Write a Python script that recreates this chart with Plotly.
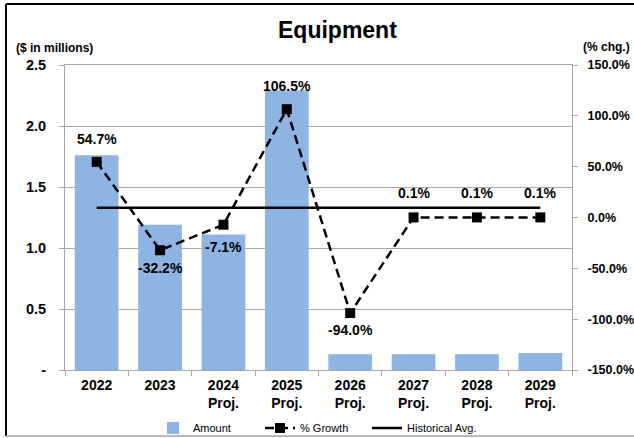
import plotly.graph_objects as go

# Equipment spending: amounts ($M) and year-over-year growth (%)
categories = ["2022", "2023", "2024<br>Proj.", "2025<br>Proj.", "2026<br>Proj.",
              "2027<br>Proj.", "2028<br>Proj.", "2029<br>Proj."]
amounts = [1.76, 1.19, 1.11, 2.29, 0.13, 0.13, 0.13, 0.14]
growth_pct = [54.7, -32.2, -7.1, 106.5, -94.0, 0.1, 0.1, 0.1]
historical_avg = 1.33

left_ticks = [0, 0.5, 1.0, 1.5, 2.0, 2.5]
left_tick_text = ["-", "0.5", "1.0", "1.5", "2.0", "2.5"]
right_ticks = [-150, -100, -50, 0, 50, 100, 150]

# growth label offsets (px) above (+) / below (-) each marker
label_shift = [23, -18, -22, 23, -17, 24, 24, 24]

W, H = 634, 438
L, R, T, B = 65, 62, 65, 68
PW, PH = W - L - R, H - T - B

FONT = "Liberation Sans, Arial, sans-serif"
GRID = "#a6a6a6"
BAR = "#8db4e2"


def px(x):
    return (x - L) / PW


def py(y):
    return (H - B - y) / PH


fig = go.Figure()
fig.add_trace(go.Bar(
    x=categories, y=amounts, name="Amount", marker_color=BAR,
    marker_line_width=0, yaxis="y", legendrank=1,
))
fig.add_trace(go.Scatter(
    x=[categories[0], categories[-1]], y=[historical_avg, historical_avg],
    mode="lines", name="Historical Avg.", yaxis="y",
    line=dict(color="black", width=2.5), legendrank=3,
))
fig.add_trace(go.Scatter(
    x=categories, y=growth_pct, name="% Growth", yaxis="y2",
    mode="lines+markers",
    line=dict(color="black", width=2.5, dash="9px,5px"),
    marker=dict(symbol="square", size=10, color="black"),
    legendrank=2, cliponaxis=False,
))
# empty legend slot so the last entry's text is not clipped
fig.add_trace(go.Scatter(
    x=[None], y=[None], name="", mode="none", showlegend=True, legendrank=4,
    hoverinfo="skip",
))

annotations = [
    dict(text="<b>Equipment</b>", x=px(337), y=py(30), xref="paper", yref="paper",
         xanchor="center", yanchor="middle", showarrow=False,
         font=dict(family=FONT, size=23, color="black")),
    dict(text="<b>($ in millions)</b>", x=px(14), y=py(48), xref="paper", yref="paper",
         xanchor="left", yanchor="middle", showarrow=False,
         font=dict(family=FONT, size=12, color="black")),
    dict(text="<b>(% chg.)</b>", x=px(632), y=py(47), xref="paper", yref="paper",
         xanchor="right", yanchor="middle", showarrow=False,
         font=dict(family=FONT, size=12, color="black")),
]
# value labels on the growth line (x given as category index)
for i, (g, s) in enumerate(zip(growth_pct, label_shift)):
    annotations.append(dict(
        text=f"{g:.1f}%", x=i, y=g, xref="x", yref="y2", yshift=s,
        xanchor="center", yanchor="middle", showarrow=False,
        font=dict(family=FONT, size=14, color="black", weight="bold"),
    ))

fig.update_layout(
    width=W, height=H,
    margin=dict(l=L, r=R, t=T, b=B, autoexpand=False),
    paper_bgcolor="white", plot_bgcolor="white",
    bargap=0.31,
    showlegend=True,
    legend=dict(orientation="h", x=153 / W, xanchor="left",
                xref="container", yref="container", y=(H - 428) / H,
                yanchor="middle", font=dict(family=FONT, size=11, color="black"),
                entrywidth=62, tracegroupgap=0, bgcolor="rgba(0,0,0,0)"),
    xaxis=dict(
        type="category", range=[-0.5, 7.5], automargin=False,
        showline=True, linecolor=GRID, linewidth=1, mirror=True,
        ticks="outside", tickson="boundaries", ticklen=5, tickcolor=GRID,
        ticklabelstandoff=2,
        tickfont=dict(family=FONT, size=14, color="black", weight="bold"),
        showgrid=False,
    ),
    yaxis=dict(
        range=[0, 2.5], tickvals=left_ticks, ticktext=left_tick_text,
        automargin=False,
        showline=True, linecolor=GRID, linewidth=1,
        showgrid=True, gridcolor=GRID, gridwidth=1,
        ticks="outside", ticklen=5, tickcolor=GRID, ticklabelstandoff=10,
        tickfont=dict(family=FONT, size=14.5, color="black", weight="bold"),
        zeroline=False,
    ),
    yaxis2=dict(
        range=[-150, 150], tickvals=right_ticks,
        ticktext=[f"{v:.1f}%" for v in right_ticks],
        overlaying="y", side="right", automargin=False,
        showline=True, linecolor=GRID, linewidth=1,
        showgrid=False, zeroline=False,
        ticks="outside", ticklen=5, tickcolor=GRID, ticklabelstandoff=7,
        tickfont=dict(family=FONT, size=12.5, color="black", weight="bold"),
    ),
    annotations=annotations,
    shapes=[
        dict(type="line", xref="paper", yref="paper", x0=px(6), x1=px(640),
             y0=py(4), y1=py(4), line=dict(color="black", width=2)),
        dict(type="line", xref="paper", yref="paper", x0=px(6), x1=px(6),
             y0=py(4), y1=py(436), line=dict(color="black", width=2)),
        dict(type="line", xref="paper", yref="paper", x0=px(6), x1=px(640),
             y0=py(436), y1=py(436), line=dict(color="#a0a0a0", width=1.5)),
    ],
)

fig.write_html("out.html")
